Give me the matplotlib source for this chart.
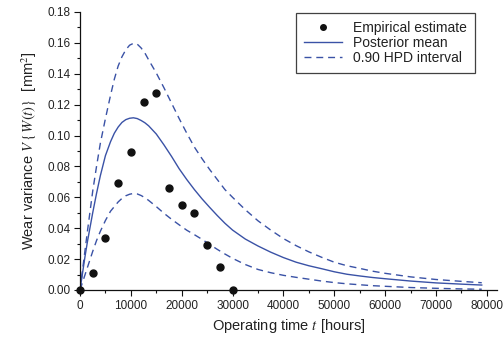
import matplotlib
matplotlib.use("Agg")
import matplotlib.pyplot as plt
from matplotlib.ticker import MultipleLocator, FormatStrFormatter

plt.rcParams['font.family'] = ['Liberation Sans', 'DejaVu Sans']
plt.rcParams['mathtext.fontset'] = 'stix'

# Empirical estimates
emp_t = [0, 2500, 5000, 7500, 10000, 12500, 15000, 17500, 20000, 22500, 25000, 27500, 30000]
emp_v = [0.0, 0.0108, 0.0339, 0.0693, 0.0896, 0.1219, 0.1276, 0.0662, 0.0548, 0.0501, 0.0291, 0.0151, 0.0]

# Curves
curve_t = [0, 500, 1000, 1500, 2500, 3250, 4000, 5000, 6000, 6750, 7500, 8250, 9000, 9750, 10500,
           11250, 12000, 12750, 13500, 15000, 16500, 18000, 19500, 21000, 22500, 24000, 25500,
           27000, 28500, 30000, 32500, 35000, 37500, 40000, 42500, 45000, 47500, 50000, 52500,
           55000, 57500, 60000, 65000, 70000, 75000, 79000]
mean_v = [0.0, 0.011, 0.022, 0.032, 0.050, 0.0625, 0.074, 0.087, 0.096, 0.1015, 0.1055, 0.1085,
          0.1103, 0.1112, 0.1115, 0.1110, 0.1098, 0.1083, 0.1063, 0.101, 0.094, 0.0865, 0.0785,
          0.0715, 0.065, 0.059, 0.0535, 0.0482, 0.0432, 0.0388, 0.0330, 0.0285, 0.0245, 0.0210,
          0.0180, 0.0157, 0.0138, 0.0118, 0.0102, 0.0091, 0.0081, 0.0073, 0.0058, 0.0046,
          0.0038, 0.0032]
upper_v = [0.0, 0.013, 0.026, 0.039, 0.064, 0.080, 0.095, 0.111, 0.126, 0.1365, 0.145, 0.151,
           0.1555, 0.1585, 0.1597, 0.1592, 0.1568, 0.1535, 0.149, 0.1405, 0.131, 0.121, 0.111,
           0.1015, 0.0925, 0.085, 0.078, 0.0715, 0.065, 0.0600, 0.0520, 0.0448, 0.0388, 0.0333,
           0.0287, 0.0247, 0.0212, 0.0180, 0.0157, 0.0140, 0.0122, 0.0108, 0.0085, 0.0068,
           0.0056, 0.0047]
lower_v = [0.0, 0.005, 0.010, 0.015, 0.025, 0.032, 0.038, 0.045, 0.051, 0.054, 0.057, 0.0593,
           0.061, 0.062, 0.0625, 0.0622, 0.0612, 0.0598, 0.058, 0.054, 0.0497, 0.0458, 0.0422,
           0.0387, 0.0358, 0.0328, 0.0295, 0.0263, 0.0233, 0.0205, 0.0165, 0.0133, 0.0112,
           0.0095, 0.0082, 0.0070, 0.0058, 0.0048, 0.0040, 0.0034, 0.0028, 0.0024, 0.0016,
           0.0011, 0.0007, 0.0005]

blue = '#3a52a6'
txt = '#222222'

fig = plt.figure(figsize=(5.04, 3.41), dpi=100)
ax = fig.add_axes([80/504, 51/341, 417/504, 278/341])

ax.plot(emp_t, emp_v, 'o', color='#111111', markersize=5, label='Empirical estimate',
        clip_on=False, zorder=4)
ax.plot(curve_t, mean_v, '-', color=blue, lw=1.0, label='Posterior mean')
ax.plot(curve_t, upper_v, '--', color=blue, lw=1.0, dashes=(5, 3.5), label='0.90 HPD interval')
ax.plot(curve_t, lower_v, '--', color=blue, lw=1.0, dashes=(5, 3.5))

ax.set_xlim(0, 82000)
ax.set_ylim(0, 0.18)
ax.xaxis.set_major_locator(MultipleLocator(10000))
ax.xaxis.set_minor_locator(MultipleLocator(5000))
ax.yaxis.set_major_locator(MultipleLocator(0.02))
ax.yaxis.set_minor_locator(MultipleLocator(0.01))
ax.yaxis.set_major_formatter(FormatStrFormatter('%.2f'))

for s in ['top', 'right']:
    ax.spines[s].set_visible(False)
for s in ['left', 'bottom']:
    ax.spines[s].set_linewidth(0.9)
    ax.spines[s].set_color('#111111')

ax.tick_params(which='major', direction='out', length=4, width=0.8, labelsize=8.5,
               labelcolor=txt, color='#111111', pad=3)
ax.tick_params(which='minor', direction='out', length=2.5, width=0.8, color='#111111')

ax.set_xlabel('Operating time $t$ [hours]', fontsize=10.5, color=txt, labelpad=4)
ax.set_ylabel(r'Wear variance $V\,\{\,W(t)\}$  [mm$^2$]', fontsize=10.5, color=txt, labelpad=6)

leg = ax.legend(loc='upper left', bbox_to_anchor=(216/417, 1.0 - 1/278), fontsize=10,
                frameon=True, fancybox=False, edgecolor='#111111', labelspacing=0.05,
                handlelength=2.7, handletextpad=0.8, borderpad=0.6, borderaxespad=0.0,
                markerscale=0.8)
leg.get_frame().set_linewidth(0.9)
for t in leg.get_texts():
    t.set_color(txt)

fig.savefig('out.png', dpi=100)
